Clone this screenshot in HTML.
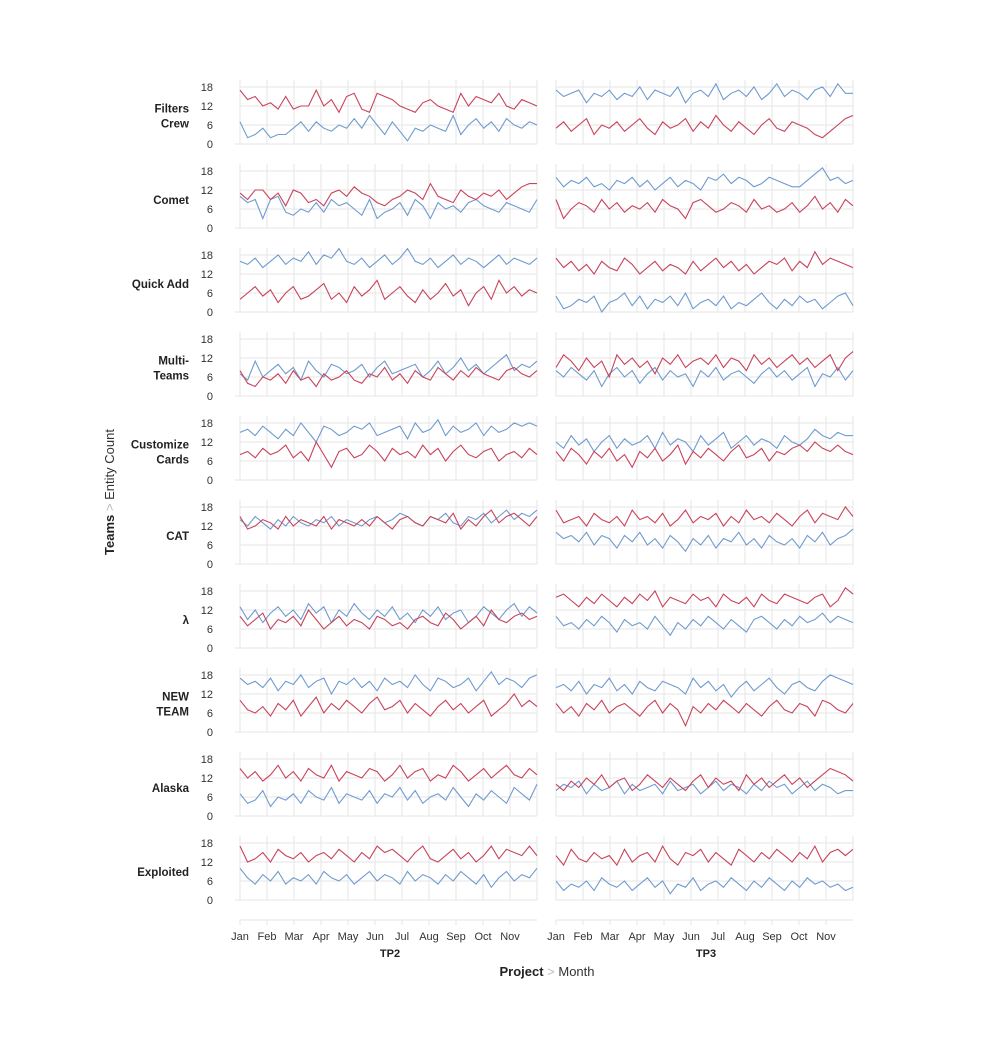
<!DOCTYPE html>
<html><head><meta charset="utf-8"><style>
body{margin:0;background:#fff;}
svg{display:block;font-family:"Liberation Sans",sans-serif;}
</style></head><body>
<svg id="chart" width="983" height="1059" viewBox="0 0 983 1059"></svg>
<script>
const teams=["Filters|Crew","Comet","Quick Add","Multi-|Teams","Customize|Cards","CAT","λ","NEW|TEAM","Alaska","Exploited"];
const projects=["TP2","TP3"];
const months=["Jan","Feb","Mar","Apr","May","Jun","Jul","Aug","Sep","Oct","Nov"];
const yTicks=[0,6,12,18];
// TP2 red / blue
const tp2Red=[
[17,14,15,12,13,11,15,11,12,12,17,12,14,10,15,16,11,10,16,15,14,12,11,10,13,14,12,11,10,16,12,15,14,13,16,12,11,14,13,12],
[11,9,12,12,9,11,7,12,11,8,9,7,11,12,10,13,11,10,8,7,9,10,12,11,9,14,10,9,8,12,10,9,11,10,12,9,11,13,14,14],
[4,6,8,5,7,3,6,8,4,5,7,9,4,6,3,8,5,7,10,4,6,8,5,3,7,4,6,9,5,7,2,6,8,4,10,6,8,5,7,6],
[8,4,3,6,5,7,4,8,5,6,3,7,5,6,8,5,4,7,6,9,5,7,4,8,6,5,9,7,5,8,6,9,7,6,5,8,9,7,6,8],
[8,9,7,10,8,9,11,7,9,6,12,8,4,9,10,7,8,11,9,6,10,8,9,7,11,8,10,6,9,11,8,7,9,10,6,8,9,7,10,8],
[15,11,12,14,13,11,15,12,14,13,12,15,11,14,13,12,14,12,15,13,11,14,15,13,12,15,14,13,16,11,14,12,15,17,13,15,16,14,12,15],
[10,7,9,11,6,9,8,10,7,12,9,6,8,10,7,9,8,6,10,9,7,8,6,9,10,8,7,11,9,6,8,10,7,12,9,8,10,11,9,10],
[10,7,6,8,5,9,7,10,5,8,11,6,9,7,10,8,6,9,11,7,8,10,6,9,7,5,8,10,7,9,6,8,10,5,7,9,12,8,10,8],
[15,12,14,11,13,16,12,14,11,15,13,12,16,11,14,13,12,15,14,11,13,16,12,14,15,11,13,12,16,14,11,13,15,12,14,16,13,12,15,13],
[17,12,13,15,12,16,14,13,15,12,14,15,13,16,14,12,15,13,17,15,16,14,12,15,17,13,12,14,16,13,15,12,14,17,13,16,15,14,17,14]];
const tp2Blue=[
[7,2,3,5,2,3,3,5,7,4,7,5,4,6,5,8,5,9,6,3,7,4,1,5,4,6,5,4,9,3,6,8,5,7,4,8,6,5,7,6],
[10,8,9,3,9,10,5,4,6,5,8,5,9,7,8,6,4,9,3,5,6,8,4,9,7,3,8,6,7,5,8,9,7,6,5,8,7,6,5,9],
[16,15,17,14,16,18,15,17,16,19,15,18,17,20,16,15,17,14,16,18,15,17,20,16,15,17,14,16,18,15,17,16,14,16,18,15,17,16,15,17],
[7,5,11,6,8,10,7,9,5,11,8,6,10,9,7,8,10,6,9,11,7,8,9,10,6,8,11,7,9,12,8,10,7,9,11,13,8,10,9,11],
[15,16,14,17,15,13,16,14,18,15,12,17,16,14,15,17,16,18,14,15,16,17,13,18,15,16,19,14,17,15,16,18,14,17,15,16,18,17,18,17],
[14,12,15,13,11,14,12,15,13,12,14,13,15,12,14,13,12,14,15,13,14,16,15,13,12,15,14,16,13,12,15,14,16,13,15,17,14,16,15,17],
[13,9,12,8,11,13,10,12,9,14,11,13,8,12,10,14,11,9,12,10,13,9,11,8,12,10,13,9,11,12,8,10,13,11,9,12,14,10,13,11],
[17,15,16,14,17,13,16,15,18,14,16,17,12,16,15,17,14,16,13,17,15,16,14,18,15,13,17,16,14,15,17,13,16,19,15,17,16,14,17,18],
[7,4,5,8,3,6,5,7,4,8,6,5,9,4,7,6,5,8,4,7,6,9,5,8,4,6,7,5,9,6,3,7,5,8,6,4,9,7,5,10],
[10,7,5,8,6,9,5,7,6,8,5,9,7,6,8,5,7,9,6,8,7,5,9,6,8,7,5,8,6,9,7,5,8,4,7,9,6,8,7,10]];
const tp3Red=[
[5,7,4,6,8,3,6,5,7,4,6,8,5,3,7,5,6,8,4,7,5,9,6,4,7,5,3,6,8,5,4,7,6,5,3,2,4,6,8,9],
[9,3,6,8,7,5,9,6,8,5,7,6,8,5,9,7,6,3,8,9,7,5,6,8,7,5,9,6,7,5,6,8,5,7,10,6,8,5,9,7],
[17,14,16,13,15,12,16,14,13,17,15,12,14,16,13,15,14,12,16,13,15,17,14,16,13,15,12,14,16,15,17,13,16,14,19,15,17,16,15,14],
[9,13,11,8,12,9,11,6,13,10,12,9,11,7,12,10,13,9,11,12,10,13,9,12,11,8,13,10,12,9,11,13,10,12,9,11,13,8,12,14],
[9,6,10,8,5,9,7,10,6,8,4,9,7,10,6,8,11,5,9,7,10,8,6,9,11,7,8,10,6,9,8,10,11,9,12,10,9,11,9,8],
[17,13,14,15,12,16,14,13,15,12,17,14,15,13,16,12,14,17,13,15,14,16,12,15,13,17,14,15,13,16,14,12,15,17,13,16,15,14,18,15],
[16,17,15,13,16,14,17,15,13,16,14,17,15,18,13,16,15,14,17,15,16,13,17,15,14,16,13,17,15,14,17,16,15,14,16,17,13,15,19,17],
[9,6,8,5,9,7,10,6,8,9,7,5,8,10,6,9,7,2,8,6,9,7,10,8,6,9,7,5,8,10,7,6,9,8,5,10,9,7,6,9],
[10,8,11,9,12,10,13,9,11,12,8,10,13,11,9,12,10,8,11,13,9,12,10,11,8,13,10,12,9,11,13,10,12,9,11,13,15,14,13,11],
[14,11,16,13,12,15,13,14,11,16,12,14,15,12,17,13,11,15,14,16,12,15,13,11,16,14,12,15,13,16,14,12,15,13,17,12,15,16,14,16]];
const tp3Blue=[
[17,15,16,17,13,16,15,17,14,16,15,18,14,17,16,15,18,13,16,17,15,19,14,16,17,15,18,14,16,19,15,17,16,14,17,18,15,19,16,16],
[16,13,15,14,16,13,14,12,15,14,16,13,15,12,14,16,13,15,14,12,16,15,17,14,16,15,13,14,16,15,14,13,13,15,17,19,15,16,14,15],
[5,1,2,4,3,5,0,3,4,6,2,5,1,4,3,5,2,6,1,3,4,2,5,1,3,2,4,6,3,1,4,2,5,3,4,1,3,5,6,2],
[8,6,9,7,5,8,3,7,9,6,8,4,7,9,5,8,6,7,3,8,6,9,5,7,8,6,4,7,9,6,8,5,7,9,3,7,6,9,5,8],
[12,10,14,11,13,9,12,14,10,13,11,12,14,10,15,11,13,12,9,14,11,13,15,10,12,14,11,13,12,10,14,12,11,13,16,14,13,15,14,14],
[10,8,9,7,10,6,9,8,5,9,7,10,6,8,5,9,7,4,8,6,9,5,8,7,10,6,8,5,9,7,6,8,5,9,7,10,6,8,9,11],
[10,7,8,6,9,7,10,8,5,9,7,8,6,10,7,4,8,6,9,7,10,8,6,9,7,5,9,10,8,6,9,7,10,8,9,11,8,10,9,8],
[14,15,13,16,12,15,14,17,13,15,12,16,14,13,16,15,14,12,17,14,16,13,15,11,14,16,13,15,17,14,12,15,16,14,13,16,18,17,16,15],
[8,10,9,11,7,10,8,9,11,7,10,8,9,10,7,11,8,9,10,7,9,11,8,10,9,7,10,8,11,9,10,7,9,11,8,10,9,7,8,8],
[6,3,5,4,6,3,7,5,4,6,3,5,7,4,6,2,5,4,7,3,5,6,4,7,5,3,6,4,7,5,3,6,4,7,5,6,4,5,3,4]];

const NS="http://www.w3.org/2000/svg";
const svg=document.getElementById("chart");
function mk(tag,attrs,parent){const e=document.createElementNS(NS,tag);for(const k in attrs)e.setAttribute(k,attrs[k]);(parent||svg).appendChild(e);return e;}
const colX=[240,556], plotW=297, monthW=27, rowY0=144, rowStep=84, ppu=3.17;
const RED="#c8435a", BLUE="#6f9bcf", GRID="#e6e6e6";
function xScale(col,i,n){return colX[col]+ i/(n-1)*plotW;}
function yScale(row,v){return rowY0+row*rowStep - v*ppu;}

teams.forEach((t,r)=>{
  const lines=t.split("|"); const mid=116+r*rowStep;
  const lab=mk("text",{x:189,"text-anchor":"end","font-size":"11.5","font-weight":"bold",fill:"#222"});
  
  
  lines.forEach((l,k)=>{const ts=mk("tspan",{x:189,y:mid+4+(k-(lines.length-1)/2)*15},lab);ts.textContent=l;});
  yTicks.forEach(v=>{
    const tt=mk("text",{x:213,y:yScale(r,v)+4,"text-anchor":"end","font-size":"11",fill:"#333"});
    
    
    tt.textContent=v;
  });
  [0,1].forEach(c=>{
    const g=mk("g",{});
    
    
    const top=yScale(r,20.2), bot=yScale(r,0);
    for(let m=0;m<=11;m++){const x=colX[c]+m*monthW;mk("line",{x1:x,x2:x,y1:top,y2:bot,stroke:GRID,"stroke-width":1},g);}
    yTicks.forEach(v=>{const y=yScale(r,v);mk("line",{x1:colX[c],x2:colX[c]+plotW,y1:y,y2:y,stroke:GRID,"stroke-width":1},g);});
    if(c===0) mk("line",{x1:colX[0]-5,x2:colX[0],y1:bot,y2:bot,stroke:GRID},g);
    const reds=c===0?tp2Red[r]:tp3Red[r], blues=c===0?tp2Blue[r]:tp3Blue[r];
    [[blues,BLUE,'blue'],[reds,RED,'red']].forEach(([d,col,nm])=>{
      const p=d.map((v,i)=>(i?"L":"M")+xScale(c,i,d.length).toFixed(1)+","+yScale(r,v).toFixed(1)).join("");
      const path=mk("path",{d:p,fill:"none",stroke:col,"stroke-width":1.1},g);
      
      
    });
  });
});
[0,1].forEach(c=>{
  const g=mk("g",{});
  
  
  mk("line",{x1:colX[c],x2:colX[c]+plotW,y1:920,y2:920,stroke:GRID},g);
  months.forEach((m,i)=>{
    const x=colX[c]+i*monthW;
    mk("line",{x1:x,x2:x,y1:920,y2:925,stroke:GRID},g);
    const t=mk("text",{x:x,y:940,"text-anchor":"middle","font-size":"11",fill:"#333"},g);
    
    
    t.textContent=m;
  });
  const pt=mk("text",{x:colX[c]+150,y:957,"text-anchor":"middle","font-size":"11","font-weight":"bold",fill:"#222"},g);
  
  
  pt.textContent=projects[c];
});
const xt=mk("text",{x:547,y:976,"text-anchor":"middle","font-size":"13",fill:"#333"});


xt.innerHTML='<tspan font-weight="bold" fill="#222">Project</tspan><tspan fill="#bbb"> &gt; </tspan><tspan>Month</tspan>';
const yt=mk("text",{x:0,y:0,"text-anchor":"middle","font-size":"13",fill:"#333",transform:"translate(114,492) rotate(-90)"});


yt.innerHTML='<tspan font-weight="bold" fill="#222">Teams</tspan><tspan fill="#bbb"> &gt; </tspan><tspan>Entity Count</tspan>';
</script>
</body></html>
